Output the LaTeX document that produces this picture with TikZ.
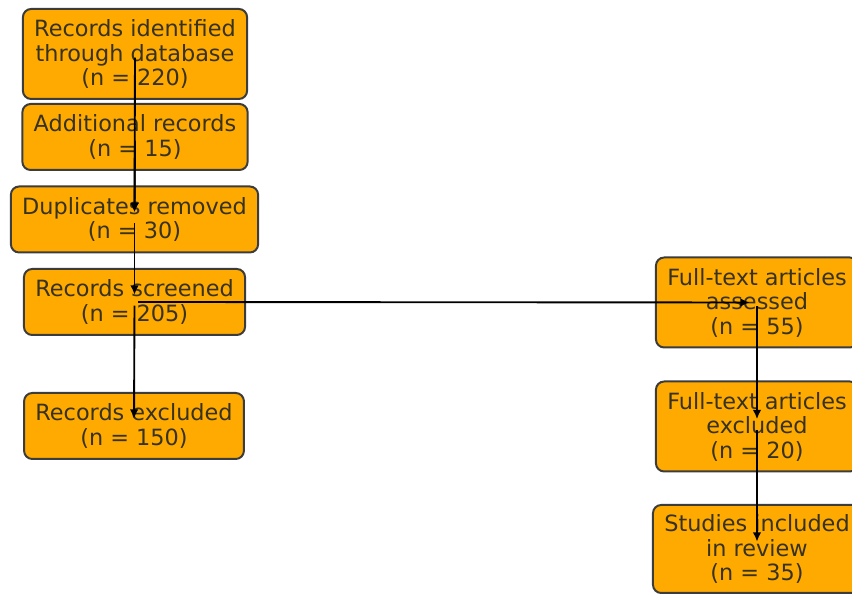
\documentclass[tikz,border=0pt]{standalone}
\usepackage{fontspec}
\setmainfont{DejaVu Sans}
\usetikzlibrary{positioning, arrows.meta}
\definecolor{boxorange}{RGB}{255,170,0}
\definecolor{edgegray}{RGB}{60,60,60}
\definecolor{textgray}{RGB}{55,50,30}
\tikzset{
  flowbox/.style={draw=edgegray, line width=1.7pt, fill=boxorange, rounded corners=7pt,
    align=center, text=textgray, inner xsep=0.34cm, inner ysep=0pt,
    font=\fontsize{19.1pt}{20.9pt}\selectfont},
  twoline/.style={flowbox, minimum height=1.98cm},
  threeline/.style={flowbox, minimum height=2.7cm},
  flowarrow/.style={-{Latex[length=0.28cm, width=0.26cm]}, line width=1.6pt, black,
    shorten <=0.11cm, shorten >=0.22cm}
}

\begin{document}
\begin{tikzpicture}
  \useasboundingbox (0,0) rectangle (25.56,17.85);
  % left column
  \node[threeline] (ident) at (4.05, 16.23) {Records identified\\through database\\(n = 220)};
  \node[twoline] (addl) at (4.05, 13.74) {Additional records\\(n = 15)};
  \node[twoline] (dups) at (4.035, 11.265) {Duplicates removed\\(n = 30)};
  \node[twoline] (screened) at (4.035, 8.79) {Records screened\\(n = 205)};
  \node[twoline] (excl) at (4.02, 5.07) {Records excluded\\(n = 150)};
  % right column
  \node[threeline] (fulltext) at (22.71, 8.775) {Full-text articles\\assessed\\(n = 55)};
  \node[threeline] (ftexcl) at (22.71, 5.055) {Full-text articles\\excluded\\(n = 20)};
  \node[threeline, minimum height=2.64cm] (included) at (22.71, 1.38) {Studies included\\in review\\(n = 35)};

  \draw[flowarrow] (ident.center) -- (dups.center);
  \draw[flowarrow] (addl.center) -- (dups.center);
  \draw[flowarrow] (dups.center) -- (screened.center);
  \draw[flowarrow] (screened.center) -- (excl.center);
  \draw[flowarrow] (screened.center) -- (fulltext.center);
  \draw[flowarrow] (fulltext.center) -- (ftexcl.center);
  \draw[flowarrow] (ftexcl.center) -- (included.center);
\end{tikzpicture}
\end{document}
